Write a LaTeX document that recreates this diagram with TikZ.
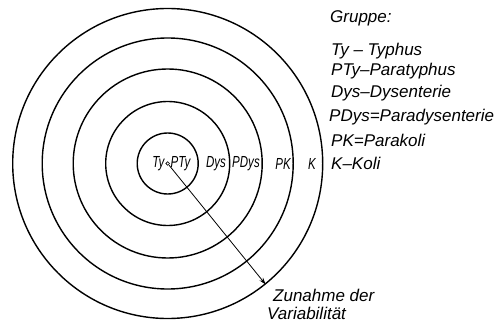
\documentclass[tikz,border=0pt]{standalone}
\usepackage{fontspec}
\setmainfont{Liberation Sans}
\newfontfamily\narrowsans[FakeStretch=0.72]{Liberation Sans}
\usetikzlibrary{arrows.meta}
\begin{document}
\begin{tikzpicture}[x=1pt,y=-1pt,
  ring/.style={draw, circle, line width=1.4pt, inner sep=0pt, minimum size=#1},
  lab/.style={font=\fontsize{17}{17}\selectfont\itshape, inner sep=0pt},
  leg/.style={lab, anchor=west},
  inlab/.style={font=\narrowsans\fontsize{16}{16}\selectfont\itshape, inner sep=0pt},
  pointer/.style={-{Stealth[length=7pt,width=4.5pt]}, line width=0.8pt},
]
\useasboundingbox (0,0) rectangle (495,326);
\coordinate (c) at (167.7,163.5);
\node[ring=61pt]  (r1) at (c) {};
\node[ring=124pt] (r2) at (c) {};
\node[ring=189pt] (r3) at (c) {};
\node[ring=251pt] (r4) at (c) {};
\node[ring=310pt] (r5) at (c) {};
\node[draw, circle, line width=0.6pt, inner sep=0pt, minimum size=3.6pt] (o) at (c) {};
\draw[pointer] (o) -- (r5.-51);

\node[inlab, anchor=east] (ty)   at (164.5,164) {Ty};
\node[inlab, anchor=west] (pty)  at (170.5,164) {PTy};
\node[inlab] (dys)  at (216,164) {Dys};
\node[inlab] (pdys) at (246,164) {PDys};
\node[inlab] (pk)   at (283,164) {PK};
\node[inlab] (k)    at (312,164) {K};

\node[leg] (g)  at (330,18)  {Gruppe:};
\node[leg] (l1) at (331,51)  {Ty – Typhus};
\node[leg] (l2) at (331,71)  {PTy–Paratyphus};
\node[leg] (l3) at (331,93)  {Dys–Dysenterie};
\node[leg] (l4) at (329,117) {PDys=Paradysenterie};
\node[leg] (l5) at (331,140) {PK=Parakoli};
\node[leg] (l6) at (331,163) {K–Koli};

\node[leg] (z1) at (273,295) {Zunahme der};
\node[leg] (z2) at (267,313) {Variabilität};
\end{tikzpicture}
\end{document}
